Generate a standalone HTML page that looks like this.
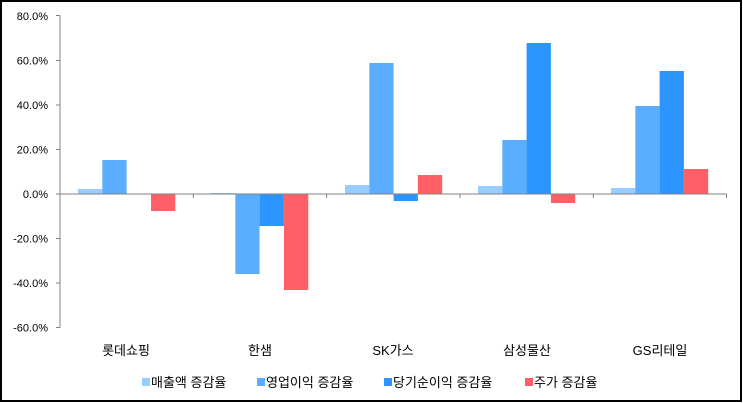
<!DOCTYPE html>
<html><head><meta charset="utf-8"><style>
html,body{margin:0;padding:0;background:#fff}
svg{display:block}
text{font-family:"Liberation Sans","Noto Sans CJK KR",sans-serif;fill:#000}
</style></head><body>
<svg width="743" height="403" viewBox="0 0 743 403" xmlns="http://www.w3.org/2000/svg">
<rect x="1" y="1" width="740" height="400" fill="#fff" stroke="#000" stroke-width="2"/>
<g font-size="11" text-anchor="end">
<text x="48" y="20">80.0%</text>
<text x="48" y="64.5">60.0%</text>
<text x="48" y="109">40.0%</text>
<text x="48" y="153.5">20.0%</text>
<text x="48" y="198">0.0%</text>
<text x="48" y="242.5">-20.0%</text>
<text x="48" y="287">-40.0%</text>
<text x="48" y="331.5">-60.0%</text>
</g>
<g>
<rect x="78" y="189" width="24.3" height="5" fill="#99CCFF"/>
<rect x="102.3" y="160" width="24.3" height="34" fill="#5AADFF"/>
<rect x="151" y="194" width="24.3" height="17" fill="#FF5F66"/>
<rect x="211" y="193" width="24.3" height="1" fill="#99CCFF"/>
<rect x="235.3" y="194" width="24.3" height="80" fill="#5AADFF"/>
<rect x="259.6" y="194" width="24.3" height="32" fill="#2B94FF"/>
<rect x="284" y="194" width="24.3" height="96" fill="#FF5F66"/>
<rect x="345" y="185" width="24.3" height="9" fill="#99CCFF"/>
<rect x="369.3" y="63" width="24.3" height="131" fill="#5AADFF"/>
<rect x="393.6" y="194" width="24.3" height="7" fill="#2B94FF"/>
<rect x="417.9" y="175" width="24.3" height="19" fill="#FF5F66"/>
<rect x="478" y="186" width="24.3" height="8" fill="#99CCFF"/>
<rect x="502.3" y="140" width="24.3" height="54" fill="#5AADFF"/>
<rect x="526.6" y="43" width="24.3" height="151" fill="#2B94FF"/>
<rect x="550.9" y="194" width="24.3" height="9" fill="#FF5F66"/>
<rect x="611" y="188" width="24.3" height="6" fill="#99CCFF"/>
<rect x="635.3" y="106" width="24.3" height="88" fill="#5AADFF"/>
<rect x="659.6" y="71" width="24.3" height="123" fill="#2B94FF"/>
<rect x="683.9" y="169" width="24.3" height="25" fill="#FF5F66"/>
</g>
<g stroke="#808080" stroke-width="1" fill="none">
<line x1="60" y1="15.5" x2="60" y2="327.5"/>
<line x1="56" y1="15.5" x2="60" y2="15.5"/>
<line x1="56" y1="60.5" x2="60" y2="60.5"/>
<line x1="56" y1="105" x2="60" y2="105"/>
<line x1="56" y1="149.5" x2="60" y2="149.5"/>
<line x1="56" y1="194" x2="60" y2="194"/>
<line x1="56" y1="238.5" x2="60" y2="238.5"/>
<line x1="56" y1="283" x2="60" y2="283"/>
<line x1="56" y1="327.5" x2="60" y2="327.5"/>
<line x1="60" y1="194" x2="727" y2="194"/>
<line x1="193.3" y1="194" x2="193.3" y2="198"/>
<line x1="326.6" y1="194" x2="326.6" y2="198"/>
<line x1="460" y1="194" x2="460" y2="198"/>
<line x1="593.3" y1="194" x2="593.3" y2="198"/>
<line x1="726.5" y1="194" x2="726.5" y2="198"/>
</g>
<g font-size="13" text-anchor="middle">
<text x="126" y="355">롯데쇼핑</text>
<text x="260" y="355">한샘</text>
<text x="393" y="355">SK가스</text>
<text x="527" y="355">삼성물산</text>
<text x="660" y="355">GS리테일</text>
</g>
<g font-size="13">
<rect x="142" y="378" width="8" height="8" fill="#99CCFF"/>
<text x="151" y="387">매출액 증감율</text>
<rect x="257" y="378" width="8" height="8" fill="#5AADFF"/>
<text x="266" y="387">영업이익 증감율</text>
<rect x="384" y="378" width="8" height="8" fill="#2B94FF"/>
<text x="393" y="387">당기순이익 증감율</text>
<rect x="525" y="378" width="8" height="8" fill="#FF5F66"/>
<text x="534" y="387">주가 증감율</text>
</g>
</svg>
</body></html>
